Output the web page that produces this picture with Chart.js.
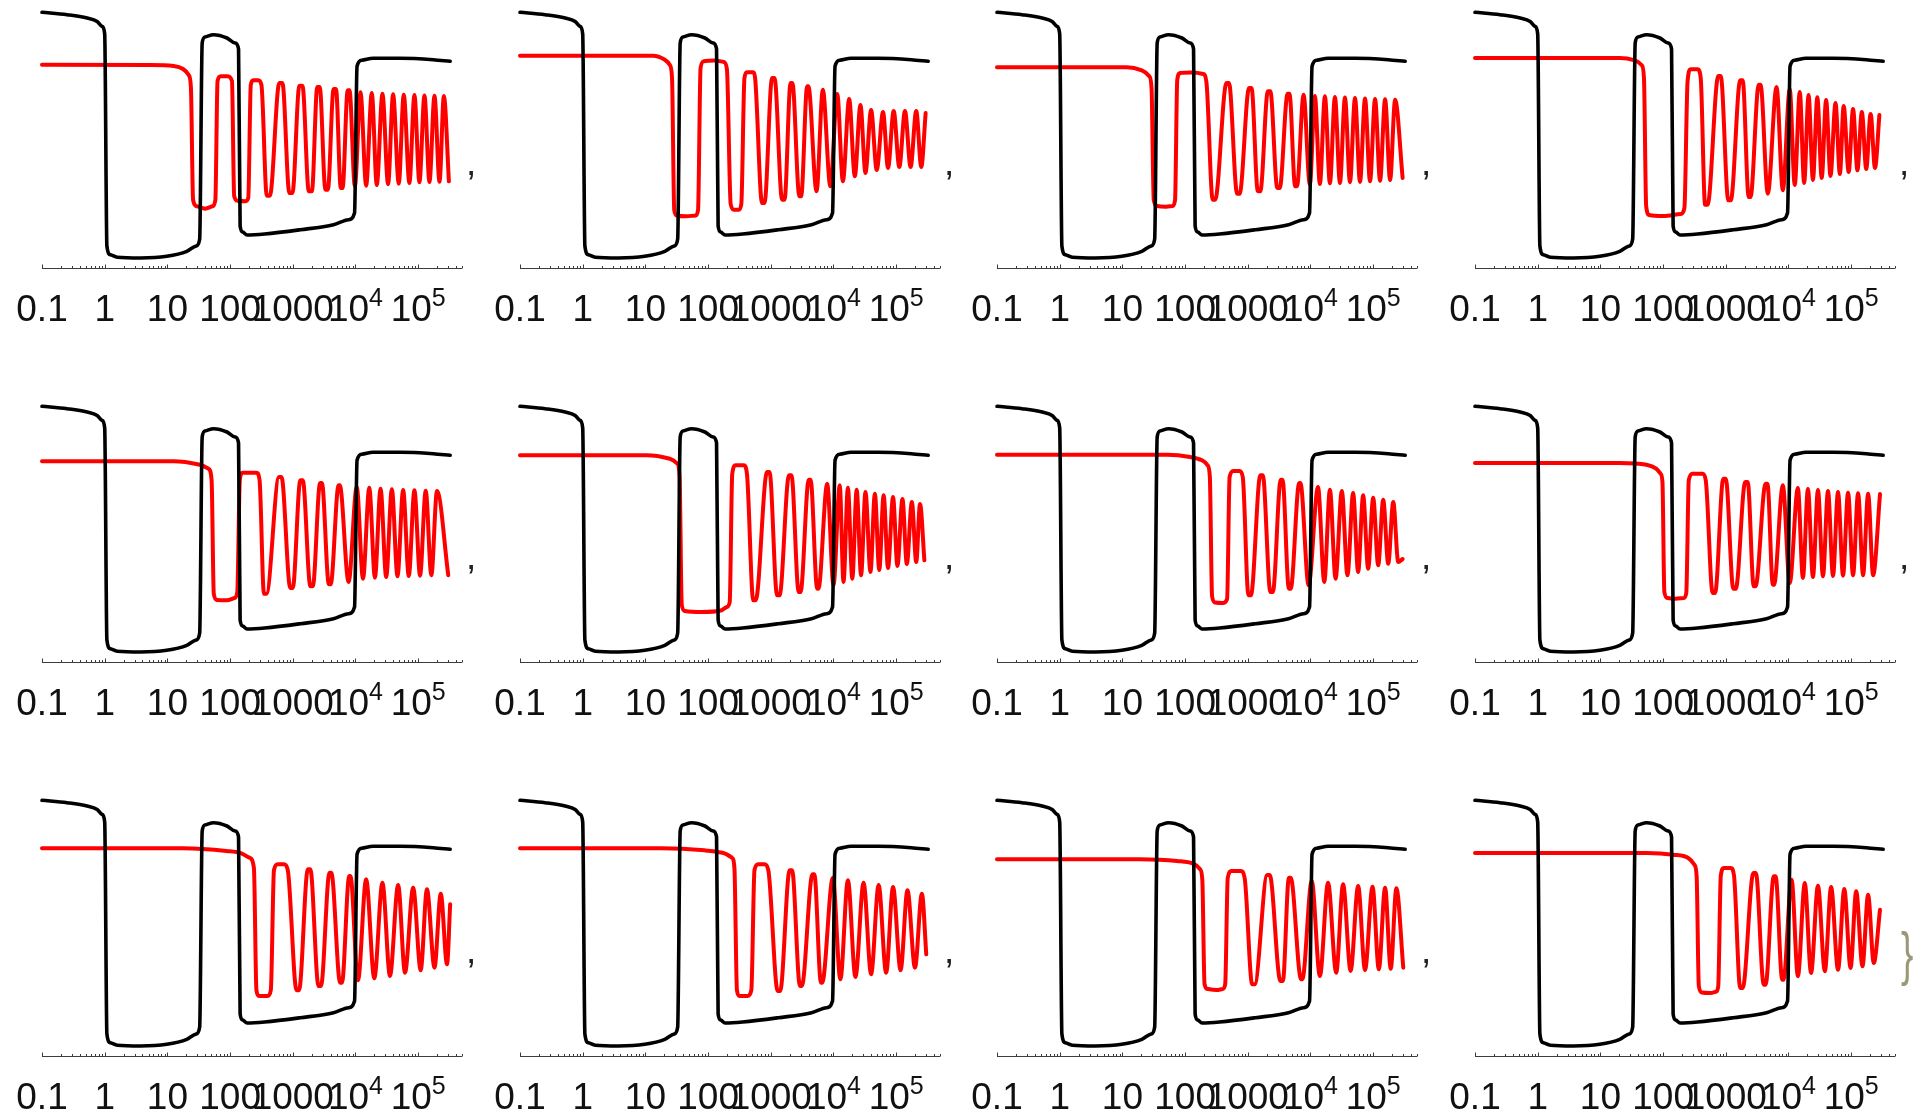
<!DOCTYPE html>
<html>
<head>
<meta charset="utf-8">
<script src="https://cdn.jsdelivr.net/npm/chart.js@4.4.0/dist/chart.umd.min.js"></script>
<style>
  html, body { margin: 0; padding: 0; background: #fff; width: 1917px; height: 1114px; overflow: hidden; }
  canvas { position: absolute; }
</style>
</head>
<body>
<script>
// tick labels of the log axis (base + superscript)
const tickValues = [0.1, 1, 10, 100, 1000, 1e4, 1e5];
const tickBase = ['0.1', '1', '10', '100', '1000', '10', '10'];
const tickExp = ['', '', '', '', '', '4', '5'];

// curves: [log10(x), level]
const blackCurve = [
  [-1, 255.7], [-0.6, 253.3], [-0.28, 250], [-0.12, 246.5], [-0.04, 241.5], [0.0, 234],
  [0.035, 22], [0.09, 13.3], [0.2, 10.7], [0.57, 10], [0.99, 11.7], [1.31, 16.7], [1.46, 22], [1.515, 29],
  [1.555, 225], [1.6, 231], [1.735, 233.3], [1.95, 230], [2.08, 225], [2.135, 219],
  [2.16, 42], [2.2, 36], [2.27, 33], [2.55, 34], [3.12, 38.3], [3.65, 43.3], [3.89, 48.3], [3.985, 55],
  [4.025, 201.7], [4.1, 207.7], [4.28, 209.7], [4.71, 209.7], [5.24, 208.3], [5.51, 206.7]
];

const red1 = [
  [-1, 203.3], [0.7, 203], [1.1, 202], [1.25, 199], [1.34, 193], [1.375, 181],
  [1.41, 68], [1.47, 61.7], [1.6, 59.3], [1.72, 61.7], [1.765, 68],
  [1.8, 187], [1.85, 191.7], [1.96, 191.7], [2.03, 187],
  [2.065, 72], [2.12, 67.3], [2.24, 66.7], [2.29, 70],
  [2.33, 183], [2.37, 187.7], [2.45, 187.7], [2.5, 183],
  [2.585, 72.3], [2.635, 72.3], [2.785, 185], [2.835, 185], [2.945, 75], [2.995, 75],
  [3.105, 182.3], [3.155, 182.3], [3.255, 76.7], [3.305, 76.7], [3.39, 181], [3.43, 181],
  [3.52, 78.3], [3.56, 78.3], [3.65, 179], [3.69, 179], [3.765, 80], [3.795, 80], [3.875, 177.7], [3.905, 177.7],
  [3.99, 81.7], [4.08, 175.7], [4.17, 82.3], [4.26, 175], [4.34, 83], [4.43, 174.3], [4.52, 83.7], [4.60, 173.7],
  [4.69, 84.3], [4.77, 173.3], [4.86, 85], [4.94, 173], [5.02, 85.7], [5.10, 172.5], [5.18, 86], [5.26, 172.3],
  [5.34, 86.3], [5.41, 172], [5.49, 86.7]
];
const red2 = [
  [-1, 212.3], [1.12, 212.3], [1.31, 208.3], [1.39, 203], [1.425, 190],
  [1.46, 58], [1.5, 52.5], [1.65, 51.7], [1.8, 52.5], [1.84, 58],
  [1.88, 200], [1.93, 206.7], [2.1, 207.5], [2.25, 206], [2.3, 199],
  [2.36, 64], [2.41, 58.3], [2.49, 58.3], [2.53, 64],
  [2.58, 190], [2.62, 195.7], [2.72, 195.7], [2.75, 190],
  [2.86, 65], [2.9, 65], [3.02, 190], [3.06, 190], [3.18, 68.3], [3.22, 68.3],
  [3.315, 185], [3.345, 185], [3.455, 71.7], [3.485, 71.7], [3.58, 181.7], [3.60, 181.7],
  [3.73, 76.7], [3.83, 178.3], [3.95, 81.7], [4.06, 174], [4.15, 86.7], [4.25, 169], [4.34, 91.7], [4.43, 163],
  [4.51, 95], [4.60, 158], [4.69, 98], [4.79, 156], [4.87, 100], [4.96, 157], [5.05, 101], [5.14, 157],
  [5.23, 101], [5.32, 157], [5.40, 101], [5.47, 155]
];
const red3 = [
  [-1, 200.7], [1.07, 200.7], [1.31, 197.7], [1.43, 191.7], [1.465, 180],
  [1.5, 68], [1.55, 62], [1.7, 61.3], [1.8, 62], [1.84, 68],
  [1.875, 188], [1.92, 195], [2.1, 195.5], [2.29, 194], [2.34, 186],
  [2.44, 68.3], [2.48, 68.3], [2.66, 185], [2.70, 185], [2.83, 74.3], [2.87, 74.3],
  [3.02, 180], [3.06, 180], [3.16, 76.7], [3.20, 76.7], [3.32, 176.7], [3.36, 176.7],
  [3.47, 80], [3.51, 80], [3.635, 174.3], [3.665, 174.3], [3.755, 81.7], [3.785, 81.7],
  [3.89, 173.3], [3.99, 83.3],
  [4.07, 172], [4.15, 84], [4.23, 171.7], [4.31, 84.7], [4.39, 171], [4.47, 85], [4.55, 170.5], [4.63, 85.7],
  [4.71, 170], [4.79, 86], [4.87, 169.5], [4.95, 86.7], [5.03, 169], [5.11, 87.3], [5.19, 168.7], [5.27, 88],
  [5.35, 168.3], [5.47, 90]
];
const red4 = [
  [-1, 210], [1.31, 210], [1.55, 207.7], [1.66, 202.7], [1.695, 190],
  [1.73, 62], [1.78, 53], [2.0, 52], [2.28, 54], [2.34, 60],
  [2.39, 186], [2.44, 198.7], [2.55, 198.7], [2.6, 190],
  [2.67, 63.3], [2.71, 63.3], [2.88, 192], [2.92, 192], [3.04, 67.7], [3.08, 67.7],
  [3.23, 187.7], [3.27, 187.7], [3.365, 71], [3.395, 71], [3.525, 183.3], [3.555, 183.3],
  [3.67, 74.3], [3.81, 181], [3.91, 77.7],
  [4.02, 179], [4.10, 83], [4.18, 176], [4.25, 85], [4.32, 173], [4.39, 88], [4.46, 170.7], [4.53, 90],
  [4.60, 168], [4.67, 92], [4.75, 165], [4.82, 94], [4.88, 162], [4.96, 96], [5.03, 159], [5.10, 97.7],
  [5.17, 156], [5.24, 99], [5.31, 154], [5.38, 100], [5.45, 153]
];
const red5 = [
  [-1, 200.7], [1.1, 200.7], [1.52, 197.3], [1.655, 193.3], [1.705, 182],
  [1.74, 68], [1.79, 62], [1.95, 61.7], [2.07, 64], [2.115, 70],
  [2.155, 182], [2.2, 189.3], [2.42, 189.3], [2.47, 182],
  [2.54, 68.3], [2.58, 68.3], [2.78, 185], [2.82, 185], [2.96, 74], [3.0, 74],
  [3.12, 181.7], [3.16, 181.7], [3.28, 75.7], [3.32, 75.7], [3.435, 179], [3.465, 179],
  [3.575, 77.7], [3.605, 77.7], [3.73, 176.7], [3.75, 176.7], [3.89, 80], [4.02, 175],
  [4.12, 83.3], [4.22, 174.3], [4.31, 84.3], [4.40, 173.3], [4.49, 85], [4.58, 172.7], [4.67, 85.7], [4.76, 172],
  [4.85, 86], [4.94, 171.7], [5.03, 86.3], [5.12, 171.3], [5.21, 86.7], [5.30, 171], [5.48, 86.7]
];
const red6 = [
  [-1, 206.7], [1.02, 206.7], [1.39, 203.3], [1.51, 198.3], [1.545, 186],
  [1.58, 57], [1.63, 51], [1.9, 50], [2.2, 51.5], [2.3, 55], [2.345, 60],
  [2.385, 188], [2.44, 196.7], [2.57, 196.7], [2.62, 188],
  [2.72, 61.7], [2.76, 61.7], [2.94, 190], [2.98, 190], [3.10, 66.7], [3.14, 66.7],
  [3.29, 186.7], [3.33, 186.7], [3.445, 70], [3.475, 70], [3.605, 182.3], [3.635, 182.3],
  [3.74, 73.3], [3.76, 73.3], [3.90, 178.3], [4.00, 76.7],
  [4.10, 176.7], [4.16, 80], [4.23, 174.3], [4.30, 83.3], [4.37, 172.3], [4.44, 86.7], [4.51, 170], [4.59, 90],
  [4.66, 168.3], [4.73, 92], [4.80, 166.7], [4.87, 94], [4.95, 165], [5.02, 96], [5.10, 163], [5.17, 98],
  [5.25, 160], [5.32, 100], [5.38, 158], [5.45, 101.7]
];
const red7 = [
  [-1, 207.3], [1.71, 207.3], [2.08, 205], [2.27, 201.7], [2.36, 196.7], [2.395, 185],
  [2.43, 66], [2.48, 59.5], [2.6, 59], [2.67, 63],
  [2.71, 185], [2.77, 191], [2.87, 191], [2.92, 185],
  [3.01, 66.7], [3.05, 66.7], [3.20, 186.7], [3.24, 186.7], [3.36, 70], [3.40, 70],
  [3.525, 182.3], [3.555, 182.3], [3.655, 73.3], [3.685, 73.3], [3.82, 179], [3.84, 179], [3.97, 76.7],
  [4.12, 175], [4.22, 80], [4.31, 172.3], [4.40, 83.3], [4.50, 171], [4.59, 86.7], [4.68, 169], [4.76, 90],
  [4.84, 166.7], [4.92, 93.3], [5.00, 164.3], [5.08, 96.7], [5.16, 162.3], [5.24, 98.3], [5.32, 160], [5.40, 100],
  [5.47, 103]
];
const red8 = [
  [-1, 199], [1.31, 199], [1.735, 197.3], [1.89, 193.3], [1.96, 188.3], [1.99, 180],
  [2.02, 70], [2.07, 64], [2.2, 63.3], [2.33, 64], [2.37, 69],
  [2.41, 182], [2.47, 188.3], [2.63, 188.3], [2.68, 182],
  [2.79, 69], [2.83, 69], [2.96, 183.3], [3.0, 183.3], [3.12, 73.3], [3.16, 73.3],
  [3.31, 180], [3.35, 180], [3.445, 75.7], [3.475, 75.7], [3.635, 178.3], [3.665, 178.3],
  [3.75, 77.3], [3.77, 77.3], [3.91, 176.7], [4.02, 79],
  [4.15, 174], [4.23, 84], [4.31, 173], [4.39, 85], [4.47, 172], [4.55, 85.7], [4.63, 171], [4.71, 86],
  [4.79, 170], [4.87, 86.3], [4.95, 169.3], [5.03, 86.7], [5.11, 168.7], [5.19, 86.7], [5.27, 168.3], [5.35, 86.7],
  [5.46, 168]
];
const red9 = [
  [-1, 207.7], [1.25, 207.7], [1.94, 205], [2.18, 202.7], [2.31, 198.3], [2.38, 188],
  [2.42, 66], [2.46, 60], [2.60, 60], [2.65, 66],
  [2.70, 186], [2.76, 191.7], [2.86, 191.7], [2.92, 186],
  [3.06, 65.7], [3.10, 65.7], [3.24, 186.7], [3.28, 186.7], [3.41, 70], [3.45, 70],
  [3.585, 183.3], [3.615, 183.3], [3.755, 73.3], [3.785, 73.3], [3.90, 180], [3.92, 180],
  [4.04, 75.7], [4.17, 176.7], [4.30, 77.7], [4.43, 173.3], [4.55, 80], [4.68, 171], [4.79, 83.3], [4.92, 168.3],
  [5.04, 85.7], [5.14, 166.7], [5.26, 88.3], [5.36, 162.3], [5.46, 91.7], [5.51, 151.7]
];
const red10 = [
  [-1, 207.7], [1.25, 207.7], [1.94, 205.7], [2.23, 203.3], [2.38, 198.3], [2.42, 188],
  [2.46, 66], [2.5, 60], [2.63, 60], [2.69, 66],
  [2.74, 186], [2.8, 191.7], [2.9, 191.7], [2.96, 186],
  [3.11, 65], [3.15, 65], [3.30, 185.7], [3.34, 185.7], [3.465, 70], [3.495, 70],
  [3.665, 181.7], [3.695, 181.7], [3.80, 73.3], [3.82, 73.3], [3.99, 178.3], [4.11, 76.7],
  [4.23, 175.7], [4.35, 79], [4.48, 173.3], [4.60, 81.7], [4.72, 171], [4.84, 83.3], [4.95, 169], [5.07, 85.7],
  [5.18, 165.7], [5.30, 88.3], [5.41, 162.3], [5.48, 101.7]
];
const red11 = [
  [-1, 196.7], [1.28, 196.7], [1.87, 195], [2.13, 192.3], [2.24, 186.7], [2.275, 176],
  [2.31, 72], [2.36, 67], [2.5, 66], [2.6, 67], [2.64, 72],
  [2.68, 178], [2.74, 185], [2.89, 185], [2.95, 178],
  [3.07, 71.7], [3.11, 71.7], [3.31, 181], [3.35, 181], [3.52, 75], [3.56, 75],
  [3.655, 178.3], [3.685, 178.3], [3.85, 76.7], [3.87, 76.7], [4.02, 175],
  [4.15, 80], [4.28, 173.3], [4.41, 83.3], [4.52, 171.7], [4.64, 85], [4.76, 170], [4.87, 86], [4.99, 169.3],
  [5.09, 86.7], [5.19, 168.3], [5.28, 87.3], [5.37, 167.7], [5.48, 88.3]
];
const red12 = [
  [-1, 203], [1.735, 203], [2.16, 201.3], [2.40, 198], [2.50, 191.3], [2.535, 180],
  [2.57, 70], [2.62, 63.5], [2.75, 63], [2.85, 64.5], [2.88, 70],
  [2.92, 180], [2.97, 188], [3.08, 188], [3.13, 181],
  [3.23, 68], [3.27, 68], [3.44, 183], [3.48, 183], [3.605, 71.3], [3.635, 71.3],
  [3.765, 179.7], [3.795, 179.7], [3.90, 76.3], [3.92, 76.3], [4.05, 176.3],
  [4.15, 79.7], [4.26, 173], [4.36, 83], [4.47, 170.3], [4.58, 84.7], [4.68, 169], [4.79, 86.3], [4.89, 167],
  [4.99, 88], [5.08, 164.7], [5.18, 89.7], [5.27, 161.3], [5.36, 93], [5.46, 146.3]
];

const redCurves = [red1, red2, red3, red4, red5, red6, red7, red8, red9, red10, red11, red12];

// page layout (pixel of the 0.1 tick, pixel of each axis line)
const colZero = [42, 520, 997, 1475];
const rowAxis = [268, 662, 1056];

const BIG = '37px "Liberation Sans", Arial, sans-serif';
const SMALL = '25px "Liberation Sans", Arial, sans-serif';

const toPoints = arr => arr.map(([u, h]) => ({ x: Math.pow(10, u), y: h }));

// axis line, log ticks, tick labels and trailing list punctuation
const frame = {
  id: 'frame',
  afterDraw(chart, args, opts) {
    const { ctx, chartArea: a } = chart;
    const xs = chart.scales.x;
    const y0 = Math.round(a.bottom) + 0.5;
    ctx.save();
    ctx.strokeStyle = '#3c3c3c';
    ctx.lineWidth = 1;
    ctx.beginPath();
    ctx.moveTo(a.left, y0);
    ctx.lineTo(a.right, y0);
    for (let e = -1; e <= 5; e++) {
      for (let m = 1; m <= 9; m++) {
        const v = m * Math.pow(10, e);
        if (v > xs.max * 1.001) continue;
        const px = Math.round(xs.getPixelForValue(v)) + 0.5;
        ctx.moveTo(px, y0);
        ctx.lineTo(px, y0 - (m === 1 ? 4 : 2.5));
      }
    }
    ctx.stroke();

    ctx.fillStyle = '#111';
    ctx.textAlign = 'left';
    ctx.textBaseline = 'alphabetic';
    tickValues.forEach((v, i) => {
      const px = xs.getPixelForValue(v);
      ctx.font = BIG;
      const w1 = ctx.measureText(tickBase[i]).width;
      ctx.font = SMALL;
      const w2 = tickExp[i] ? ctx.measureText(tickExp[i]).width : 0;
      const left = px - (w1 + w2) / 2;
      ctx.font = BIG;
      ctx.fillText(tickBase[i], left, y0 + 52);
      if (tickExp[i]) {
        ctx.font = SMALL;
        ctx.fillText(tickExp[i], left + w1, y0 + 37);
      }
    });

    if (opts.mark === ',') {
      ctx.font = BIG;
      ctx.fillStyle = '#222';
      ctx.fillText(',', a.left + 424, y0 - 94);
    } else if (opts.mark === '}') {
      ctx.font = BIG;
      ctx.fillStyle = '#999977';
      ctx.translate(a.left + 426, y0 - 83);
      ctx.scale(1, 1.58);
      ctx.fillText('}', 0, 0);
    }
    ctx.restore();
  }
};

redCurves.forEach((red, i) => {
  const r = Math.floor(i / 4), c = i % 4;
  const cv = document.createElement('canvas');
  cv.width = 500;
  cv.height = 330;
  cv.style.left = (colZero[c] - 30) + 'px';
  cv.style.top = (rowAxis[r] - 268) + 'px';
  cv.style.width = '500px';
  cv.style.height = '330px';
  document.body.appendChild(cv);

  new Chart(cv.getContext('2d'), {
    type: 'line',
    data: {
      datasets: [
        {
          data: toPoints(blackCurve),
          borderColor: '#000000',
          borderWidth: 3.6,
          pointRadius: 0,
          cubicInterpolationMode: 'monotone',
          borderJoinStyle: 'round',
          borderCapStyle: 'round',
          clip: false
        },
        {
          data: toPoints(red),
          borderColor: '#ff0000',
          borderWidth: 4,
          pointRadius: 0,
          cubicInterpolationMode: 'monotone',
          borderJoinStyle: 'round',
          borderCapStyle: 'round',
          clip: false
        }
      ]
    },
    options: {
      responsive: false,
      animation: false,
      devicePixelRatio: 1,
      layout: { padding: { left: 30, right: 50, top: 6, bottom: 62 } },
      scales: {
        x: { type: 'logarithmic', min: 0.1, max: 5e5, display: false },
        y: { type: 'linear', min: 0, max: 262, display: false }
      },
      plugins: {
        legend: { display: false },
        tooltip: { enabled: false },
        frame: { mark: i === 11 ? '}' : ',' }
      }
    },
    plugins: [frame]
  });
});
</script>
</body>
</html>
